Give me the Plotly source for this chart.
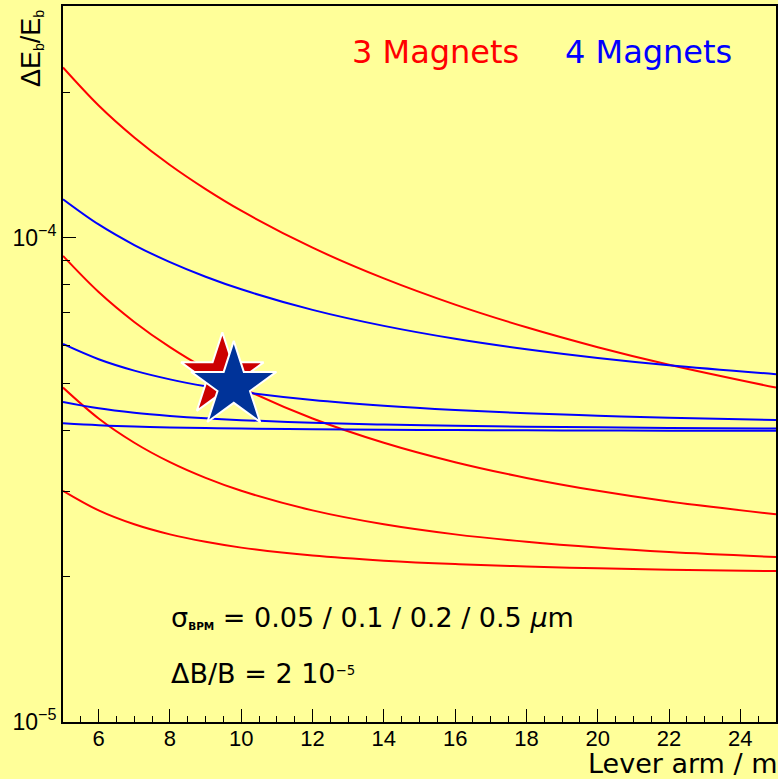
import plotly.graph_objects as go

# Lever arm values (m)
lever_arm = [5, 6, 7, 8, 9, 10, 12, 14, 16, 18, 20, 22, 25]

# 3 magnets: sigma_BPM = 0.05 / 0.1 / 0.2 / 0.5 um  (values in 1e-5)
red_005 = [3.003, 2.736, 2.561, 2.441, 2.356, 2.292, 2.207, 2.154, 2.119, 2.095, 2.077, 2.064, 2.050]
red_010 = [4.906, 4.235, 3.774, 3.441, 3.193, 3.003, 2.736, 2.561, 2.441, 2.356, 2.292, 2.244, 2.192]
red_020 = [9.180, 7.730, 6.705, 5.946, 5.365, 4.906, 4.235, 3.774, 3.441, 3.193, 3.003, 2.854, 2.685]
red_050 = [22.49, 18.77, 16.12, 14.14, 12.61, 11.38, 9.545, 8.246, 7.280, 6.536, 5.946, 5.470, 4.906]

# 4 magnets
blue_005 = [4.140, 4.102, 4.077, 4.060, 4.047, 4.037, 4.024, 4.015, 4.009, 4.004, 4.000, 3.998, 3.995]
blue_010 = [4.582, 4.445, 4.353, 4.288, 4.239, 4.203, 4.151, 4.116, 4.091, 4.074, 4.061, 4.050, 4.037]
blue_020 = [6.037, 5.614, 5.318, 5.102, 4.937, 4.809, 4.624, 4.499, 4.409, 4.343, 4.292, 4.252, 4.205]
blue_050 = [12.02, 10.66, 9.667, 8.910, 8.312, 7.830, 7.101, 6.580, 6.189, 5.888, 5.650, 5.457, 5.229]

star_red = (9.47, 5.19e-5)
star_blue = (9.79, 4.95e-5)

x_ticks = [6, 8, 10, 12, 14, 16, 18, 20, 22, 24]
y_major = [1e-5, 1e-4]
y_major_text = ["10<sup>\u22125</sup>", "10<sup>\u22124</sup>"]
y_minor = [2e-5, 3e-5, 4e-5, 5e-5, 6e-5, 7e-5, 8e-5, 9e-5, 2e-4, 3e-4]

BG = "#ffff99"
W, H = 778, 779
L, R, T, B = 63, 0, 6, 57
PW, PH = W - L - R, H - T - B


def xp(px):
    return (px - L) / PW


def yp(py):
    return (H - B - py) / PH


fig = go.Figure()

for vals in [red_005, red_010, red_020, red_050]:
    fig.add_trace(go.Scatter(x=lever_arm, y=[v * 1e-5 for v in vals], mode="lines",
                             line=dict(color="#ff0000", width=2, shape="spline"),
                             showlegend=False, hoverinfo="skip"))
for vals in [blue_005, blue_010, blue_020, blue_050]:
    fig.add_trace(go.Scatter(x=lever_arm, y=[v * 1e-5 for v in vals], mode="lines",
                             line=dict(color="#0000ff", width=2, shape="spline"),
                             showlegend=False, hoverinfo="skip"))

fig.add_trace(go.Scatter(x=[star_red[0]], y=[star_red[1]], mode="markers",
                         marker=dict(symbol="star", size=62, color="#cc0000",
                                     line=dict(color="white", width=2)),
                         showlegend=False))
fig.add_trace(go.Scatter(x=[star_blue[0]], y=[star_blue[1]], mode="markers",
                         marker=dict(symbol="star", size=64, color="#003399",
                                     line=dict(color="white", width=2)),
                         showlegend=False))

helv = "Liberation Sans, Arial, sans-serif"
dv = "DejaVu Sans, sans-serif"
tickfont = dict(family=helv, size=22, color="black")

fig.update_layout(
    width=W, height=H,
    margin=dict(l=L, r=R, t=T, b=B, pad=0),
    paper_bgcolor=BG, plot_bgcolor=BG,
    xaxis=dict(range=[5, 25], tickmode="array", tickvals=x_ticks,
               ticks="inside", ticklen=13, tickwidth=1, tickcolor="black",
               minor=dict(dtick=0.5, tick0=0, ticks="inside", ticklen=6, tickwidth=1, tickcolor="black"),
               showline=True, linecolor="black", linewidth=2, mirror=True,
               showgrid=False, zeroline=False, tickfont=tickfont, ticklabelstandoff=-4),
    yaxis=dict(type="log", range=[-5, -3.521], tickmode="array", tickvals=y_major,
               ticktext=y_major_text,
               ticks="inside", ticklen=13, tickwidth=1, tickcolor="black",
               minor=dict(tickmode="array", tickvals=y_minor, ticks="inside", ticklen=7,
                          tickwidth=1, tickcolor="black"),
               showline=True, linecolor="black", linewidth=2, mirror=True,
               showgrid=False, zeroline=False, tickfont=dict(family=helv, size=23, color="black")),
)

annos = [
    dict(text="3 Magnets", x=xp(351), y=yp(52), xanchor="left", yanchor="middle",
         font=dict(family=dv, size=32, color="#ff0000")),
    dict(text="4 Magnets", x=xp(564), y=yp(52), xanchor="left", yanchor="middle",
         font=dict(family=dv, size=32, color="#0000ff")),
    dict(text="Lever arm / m", x=xp(587), y=yp(763), xanchor="left", yanchor="middle",
         font=dict(family=dv, size=27, color="black")),
    dict(text="\u03c3<span style='font-size:15px'><sub><b>BPM</b></sub></span> = 0.05 / 0.1 / 0.2 / 0.5 <i>\u03bc</i>m",
         x=xp(169), y=yp(617), xanchor="left", yanchor="middle",
         font=dict(family=dv, size=27, color="black")),
    dict(text="\u0394B/B = 2 10<span style='font-size:19px'><sup>\u22125</sup></span>",
         x=xp(169), y=yp(673), xanchor="left", yanchor="middle",
         font=dict(family=dv, size=27, color="black")),
    dict(text="\u0394E<span style='font-size:20px'><sub>b</sub></span>/E<span style='font-size:20px'><sub>b</sub></span>",
         x=xp(32), y=yp(49), xanchor="center", yanchor="middle", textangle=-90,
         font=dict(family=helv, size=27, color="black")),
]
for a in annos:
    fig.add_annotation(xref="paper", yref="paper", showarrow=False, **a)

fig.write_html("out.html")
